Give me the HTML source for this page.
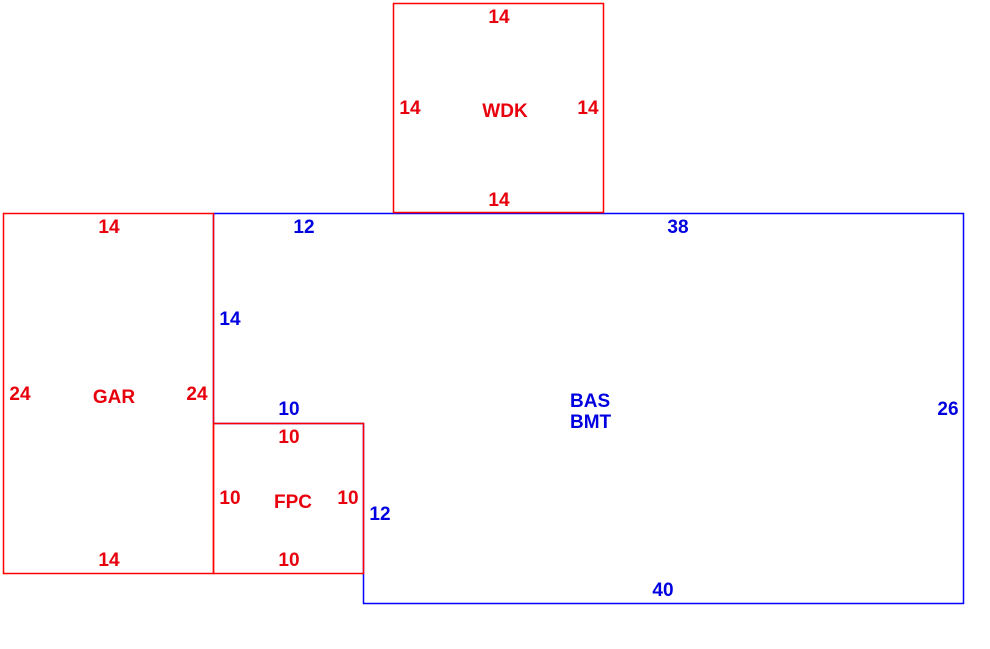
<!DOCTYPE html>
<html><head><meta charset="utf-8"><style>
html,body{margin:0;padding:0;background:#fff;}
svg{display:block;}
text{font-family:"Liberation Sans",Arial,sans-serif;font-weight:bold;font-size:19px;}
.r{fill:#e8000c;} .b{fill:#0000e0;}
</style></head><body>
<svg width="990" height="649" viewBox="0 0 990 649" xmlns="http://www.w3.org/2000/svg">
<g fill="none" stroke-width="1.5">
<polyline points="213.5,213.5 963.5,213.5 963.5,603.5 363.5,603.5 363.5,423.5 213.5,423.5 213.5,213.5" stroke="#0000ff"/>
<rect x="393.5" y="3.5" width="210" height="209" stroke="#ff0000"/>
<rect x="3.5" y="213.5" width="210" height="360" stroke="#ff0000"/>
<rect x="213.5" y="423.5" width="150" height="150" stroke="#ff0000"/>
</g>
<g text-anchor="middle">
<text class="r" x="499" y="23">14</text>
<text class="r" x="410" y="114">14</text>
<text class="r" x="505" y="117">WDK</text>
<text class="r" x="588" y="114">14</text>
<text class="r" x="499" y="206">14</text>
<text class="r" x="109" y="233">14</text>
<text class="r" x="20" y="400">24</text>
<text class="r" x="114" y="403">GAR</text>
<text class="r" x="197" y="400">24</text>
<text class="r" x="109" y="566">14</text>
<text class="b" x="304" y="233">12</text>
<text class="b" x="678" y="233">38</text>
<text class="b" x="230" y="325">14</text>
<text class="b" x="289" y="415">10</text>
<text class="b" x="948" y="415">26</text>
<text class="b" x="380" y="520">12</text>
<text class="b" x="663" y="596">40</text>
<text class="r" x="289" y="443">10</text>
<text class="r" x="230" y="504">10</text>
<text class="r" x="293" y="508">FPC</text>
<text class="r" x="348" y="504">10</text>
<text class="r" x="289" y="566">10</text>
</g>
<text class="b" x="570" y="407">BAS</text>
<text class="b" x="570" y="428">BMT</text>
</svg>
</body></html>
